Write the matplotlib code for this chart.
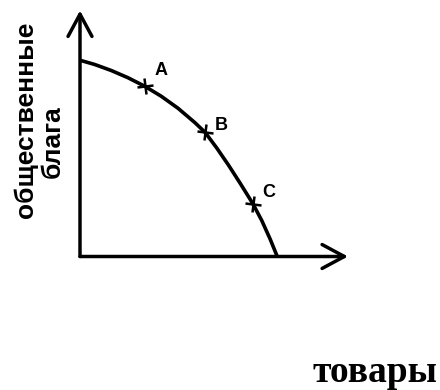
import matplotlib
matplotlib.use("Agg")
import matplotlib.pyplot as plt
from matplotlib.markers import MarkerStyle

# production possibility frontier
goods = [0.0, 0.59, 1.25, 1.92, 2.59, 3.25, 3.92, 4.59, 5.00,
         5.47, 5.93, 6.40, 6.91, 7.27, 7.60, 7.89]
public_goods = [7.85, 7.68, 7.44, 7.15, 6.81, 6.41, 5.93, 5.36, 4.97,
                4.34, 3.67, 2.94, 2.12, 1.44, 0.71, 0.0]

point_names = ["A", "B", "C"]
point_goods = [2.59, 5.00, 6.91]
point_public = [6.81, 4.97, 2.12]
label_offsets = [(11.5, 11), (11.5, 5), (11.5, 8)]
marker_tilt = [8, -5, -10]

x_axis_end = 10.72
y_axis_end = 9.84

x_label = "товары"
y_label_1 = "общественные"
y_label_2 = "блага"

fig = plt.figure(figsize=(4.4, 3.9), dpi=100)
ax = fig.add_axes([0, 0, 1, 1])
ax.set_xlim(-3.2, 14.4)
ax.set_ylim(-5.34, 10.26)
ax.axis("off")

arrow = dict(arrowstyle="->,head_length=0.8,head_width=0.43", mutation_scale=20,
             lw=2.5, color="black", shrinkA=0, shrinkB=0)
ax.annotate("", xy=(x_axis_end, 0), xytext=(0, 0), arrowprops=arrow)
ax.annotate("", xy=(0, y_axis_end), xytext=(0, 0), arrowprops=arrow)

ax.plot(goods, public_goods, color="black", lw=2.6, solid_capstyle="butt",
        solid_joinstyle="round")

for gx, gy, tilt in zip(point_goods, point_public, marker_tilt):
    m = MarkerStyle("+")
    m._transform = m.get_transform().rotate_deg(tilt)
    ax.plot([gx], [gy], ls="none", marker=m, ms=12, mew=1.8, color="black")

for name, gx, gy, off in zip(point_names, point_goods, point_public, label_offsets):
    ax.annotate(name, xy=(gx, gy), xytext=off, textcoords="offset points",
                ha="center", va="center", fontsize=13, fontweight="bold",
                family="Liberation Sans")

ax.text(26 / 440, 1 - 120 / 390, y_label_1, transform=ax.transAxes, rotation=90,
        ha="center", va="center", fontsize=19, fontweight="bold", family="Liberation Sans")
ax.text(53 / 440, 1 - 142 / 390, y_label_2, transform=ax.transAxes, rotation=90,
        ha="center", va="center", fontsize=19, fontweight="bold", family="Liberation Sans")
ax.text(375 / 440, 1 - 372 / 390, x_label, transform=ax.transAxes,
        ha="center", va="center", fontsize=27, fontweight="bold", family="Liberation Serif")

fig.savefig("out.png", dpi=100)
